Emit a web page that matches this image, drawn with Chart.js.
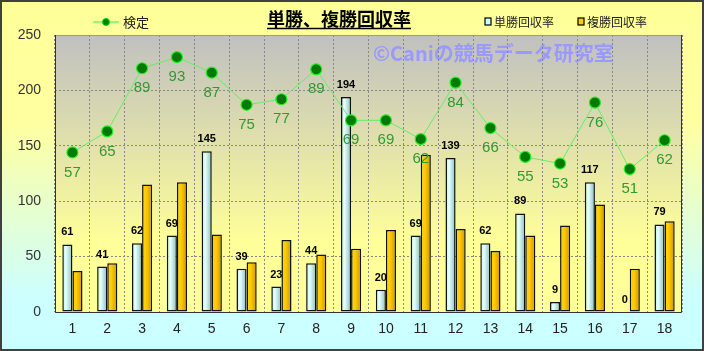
<!DOCTYPE html>
<html>
<head>
<meta charset="utf-8">
<script src="https://cdn.jsdelivr.net/npm/chart.js@4.4.1/dist/chart.umd.min.js"></script>
<style>
  html, body { margin: 0; padding: 0; background: #fff; }
  canvas { display: block; }
</style>
</head>
<body>
<canvas id="chart" width="704" height="351"></canvas>
<script>
// race numbers 1..18
const races = ['1', '2', '3', '4', '5', '6', '7', '8', '9', '10', '11', '12', '13', '14', '15', '16', '17', '18'];
// 単勝回収率
const winReturn = [61, 41, 62, 69, 145, 39, 23, 44, 194, 20, 69, 139, 62, 89, 9, 117, 0, 79];
// 複勝回収率
const placeReturn = [37, 44, 115, 117, 70, 45, 65, 52, 57, 74, 142, 75, 55, 69, 78, 97, 39, 82];
// 検定 (point height)
const testValues = [144, 163, 220, 230, 216, 187, 192, 219, 173, 173, 156, 207, 166, 140, 134, 189, 129, 155];
// 検定 (printed value)
const testLabels = [57, 65, 89, 93, 87, 75, 77, 89, 69, 69, 62, 84, 66, 55, 53, 76, 51, 62];
const yTicks = [0, 50, 100, 150, 200, 250];

const numFont = '"Liberation Sans", Arial, sans-serif';
const jpFont = '"Noto Sans CJK JP", sans-serif';

// backgrounds, plot frame
const backdrop = {
    id: 'backdrop',
    beforeDraw(chart) {
        const ctx = chart.ctx;
        const a = chart.chartArea;
        ctx.save();
        let g = ctx.createLinearGradient(0, 0, 0, chart.height);
        g.addColorStop(0, '#FFFF99');
        g.addColorStop(0.35, '#FFFFA0');
        g.addColorStop(0.85, '#CCFFFF');
        g.addColorStop(1, '#CCFFFF');
        ctx.fillStyle = g;
        ctx.fillRect(0, 0, chart.width, chart.height);

        g = ctx.createLinearGradient(0, a.top, 0, a.bottom);
        g.addColorStop(0, '#C0C0C0');
        g.addColorStop(0.75, '#FFFF99');
        g.addColorStop(1, '#FFFF99');
        ctx.fillStyle = g;
        ctx.fillRect(a.left, a.top, a.right - a.left, a.bottom - a.top);

        // watermark
        ctx.fillStyle = '#9999FF';
        ctx.font = 'bold 20px ' + jpFont;
        ctx.textAlign = 'left';
        ctx.textBaseline = 'middle';
        ctx.fillText('©Caniの競馬データ研究室', 373, 53);
        ctx.restore();
    },
    beforeDatasetDraw(chart, args) {
        const meta = args.meta;
        if (meta.type !== 'bar') return;
        const ctx = chart.ctx;
        const blue = meta.index === 0;
        meta.data.forEach(el => {
            const w = el.width;
            const g = ctx.createLinearGradient(el.x - w / 2, 0, el.x + w / 2, 0);
            if (blue) {
                g.addColorStop(0, '#B8ECEC');
                g.addColorStop(0.35, '#E8FFFF');
                g.addColorStop(1, '#86BEBE');
            } else {
                g.addColorStop(0, '#FFD21A');
                g.addColorStop(0.4, '#FFCC00');
                g.addColorStop(1, '#C89600');
            }
            el.options = Object.assign({}, el.options, { backgroundColor: g });
        });
    },
    afterDraw(chart) {
        const ctx = chart.ctx;
        const a = chart.chartArea;
        ctx.save();
        // plot frame
        ctx.lineWidth = 1;
        ctx.strokeStyle = '#999999';
        ctx.beginPath();
        ctx.moveTo(a.left, a.top + 0.5);
        ctx.lineTo(a.right, a.top + 0.5);
        ctx.stroke();
        ctx.strokeStyle = '#333333';
        ctx.beginPath();
        ctx.moveTo(a.left + 0.5, a.top);
        ctx.lineTo(a.left + 0.5, a.bottom + 0.5);
        ctx.lineTo(a.right - 0.5, a.bottom + 0.5);
        ctx.lineTo(a.right - 0.5, a.top);
        ctx.stroke();

        // outer border
        ctx.lineWidth = 2;
        ctx.strokeStyle = '#404040';
        ctx.strokeRect(1, 1, chart.width - 2, chart.height - 2);

        // title
        ctx.fillStyle = '#000';
        ctx.font = 'bold 18px ' + jpFont;
        ctx.textAlign = 'center';
        ctx.textBaseline = 'middle';
        const title = '単勝、複勝回収率';
        ctx.fillText(title, 339, 19);
        const tw = ctx.measureText(title).width;
        ctx.lineWidth = 1.5;
        ctx.strokeStyle = '#000';
        ctx.beginPath();
        ctx.moveTo(339 - tw / 2, 28.5);
        ctx.lineTo(339 + tw / 2, 28.5);
        ctx.stroke();

        // legend: 検定
        ctx.strokeStyle = '#66FF66';
        ctx.lineWidth = 1.5;
        ctx.beginPath();
        ctx.moveTo(93, 22);
        ctx.lineTo(119, 22);
        ctx.stroke();
        ctx.fillStyle = '#008000';
        ctx.strokeStyle = '#00E000';
        ctx.lineWidth = 1;
        ctx.beginPath();
        ctx.arc(106, 22, 3.5, 0, Math.PI * 2);
        ctx.fill();
        ctx.stroke();
        ctx.font = '13px ' + jpFont;
        ctx.textAlign = 'left';
        ctx.fillStyle = '#222';
        ctx.fillText('検定', 123, 22);

        // legend: bars
        const items = [['単勝回収率', '#CCFFFF', 485], ['複勝回収率', '#FFCC00', 578]];
        items.forEach(([txt, col, x]) => {
            ctx.fillStyle = col;
            ctx.fillRect(x, 18, 6, 7);
            ctx.strokeStyle = '#000';
            ctx.lineWidth = 1.2;
            ctx.strokeRect(x, 18, 6, 7);
            ctx.fillStyle = '#222';
            ctx.font = '12px ' + jpFont;
            ctx.fillText(txt, x + 9, 22);
        });
        ctx.restore();
    },
    afterDatasetsDraw(chart) {
        const ctx = chart.ctx;
        ctx.save();
        ctx.textAlign = 'center';
        // bar values (単勝)
        ctx.font = 'bold 11px ' + numFont;
        ctx.fillStyle = '#000';
        ctx.textBaseline = 'middle';
        chart.getDatasetMeta(0).data.forEach((el, i) => {
            ctx.fillText(String(winReturn[i]), el.x, el.y - 12);
        });
        // 検定 values
        ctx.font = '15px ' + numFont;
        ctx.fillStyle = '#339933';
        chart.getDatasetMeta(2).data.forEach((el, i) => {
            ctx.fillText(String(testLabels[i]), el.x, el.y + 20);
        });
        ctx.restore();
    }
};

new Chart(document.getElementById('chart'), {
    data: {
        labels: races,
        datasets: [
            {
                type: 'bar',
                label: '単勝回収率',
                data: winReturn,
                backgroundColor: '#CCFFFF',
                borderColor: '#111',
                borderWidth: 1.5,
                borderSkipped: false,
                categoryPercentage: 0.58,
                barPercentage: 1.0,
                order: 2
            },
            {
                type: 'bar',
                label: '複勝回収率',
                data: placeReturn,
                backgroundColor: '#FFCC00',
                borderColor: '#111',
                borderWidth: 1.5,
                borderSkipped: false,
                categoryPercentage: 0.58,
                barPercentage: 1.0,
                order: 2
            },
            {
                type: 'line',
                label: '検定',
                data: testValues,
                borderColor: '#66EE66',
                borderWidth: 1,
                pointRadius: 5.5,
                pointBackgroundColor: '#007A00',
                pointBorderColor: '#22EE22',
                pointBorderWidth: 1.2,
                tension: 0,
                order: 0
            }
        ]
    },
    options: {
        responsive: false,
        animation: false,
        events: [],
        layout: { padding: { top: 35, right: 22, left: 0, bottom: 0 } },
        plugins: {
            legend: { display: false },
            title: { display: false },
            tooltip: { enabled: false }
        },
        scales: {
            x: {
                offset: true,
                grid: { color: '#888888', offset: true, drawTicks: false },
                border: { display: false, dash: [2, 2] },
                ticks: { color: '#222', font: { family: numFont, size: 14 }, padding: 9 },
                afterFit: s => { s.height = 39; }
            },
            y: {
                min: 0,
                max: 250,
                afterBuildTicks: s => { s.ticks = yTicks.map(v => ({ value: v })); },
                grid: { color: '#888888', drawTicks: false },
                border: { display: false, dash: [2, 2] },
                ticks: { color: '#333', font: { family: numFont, size: 14 }, padding: 14 },
                afterFit: s => { s.width = 55; }
            }
        }
    },
    plugins: [backdrop]
});
</script>
</body>
</html>
